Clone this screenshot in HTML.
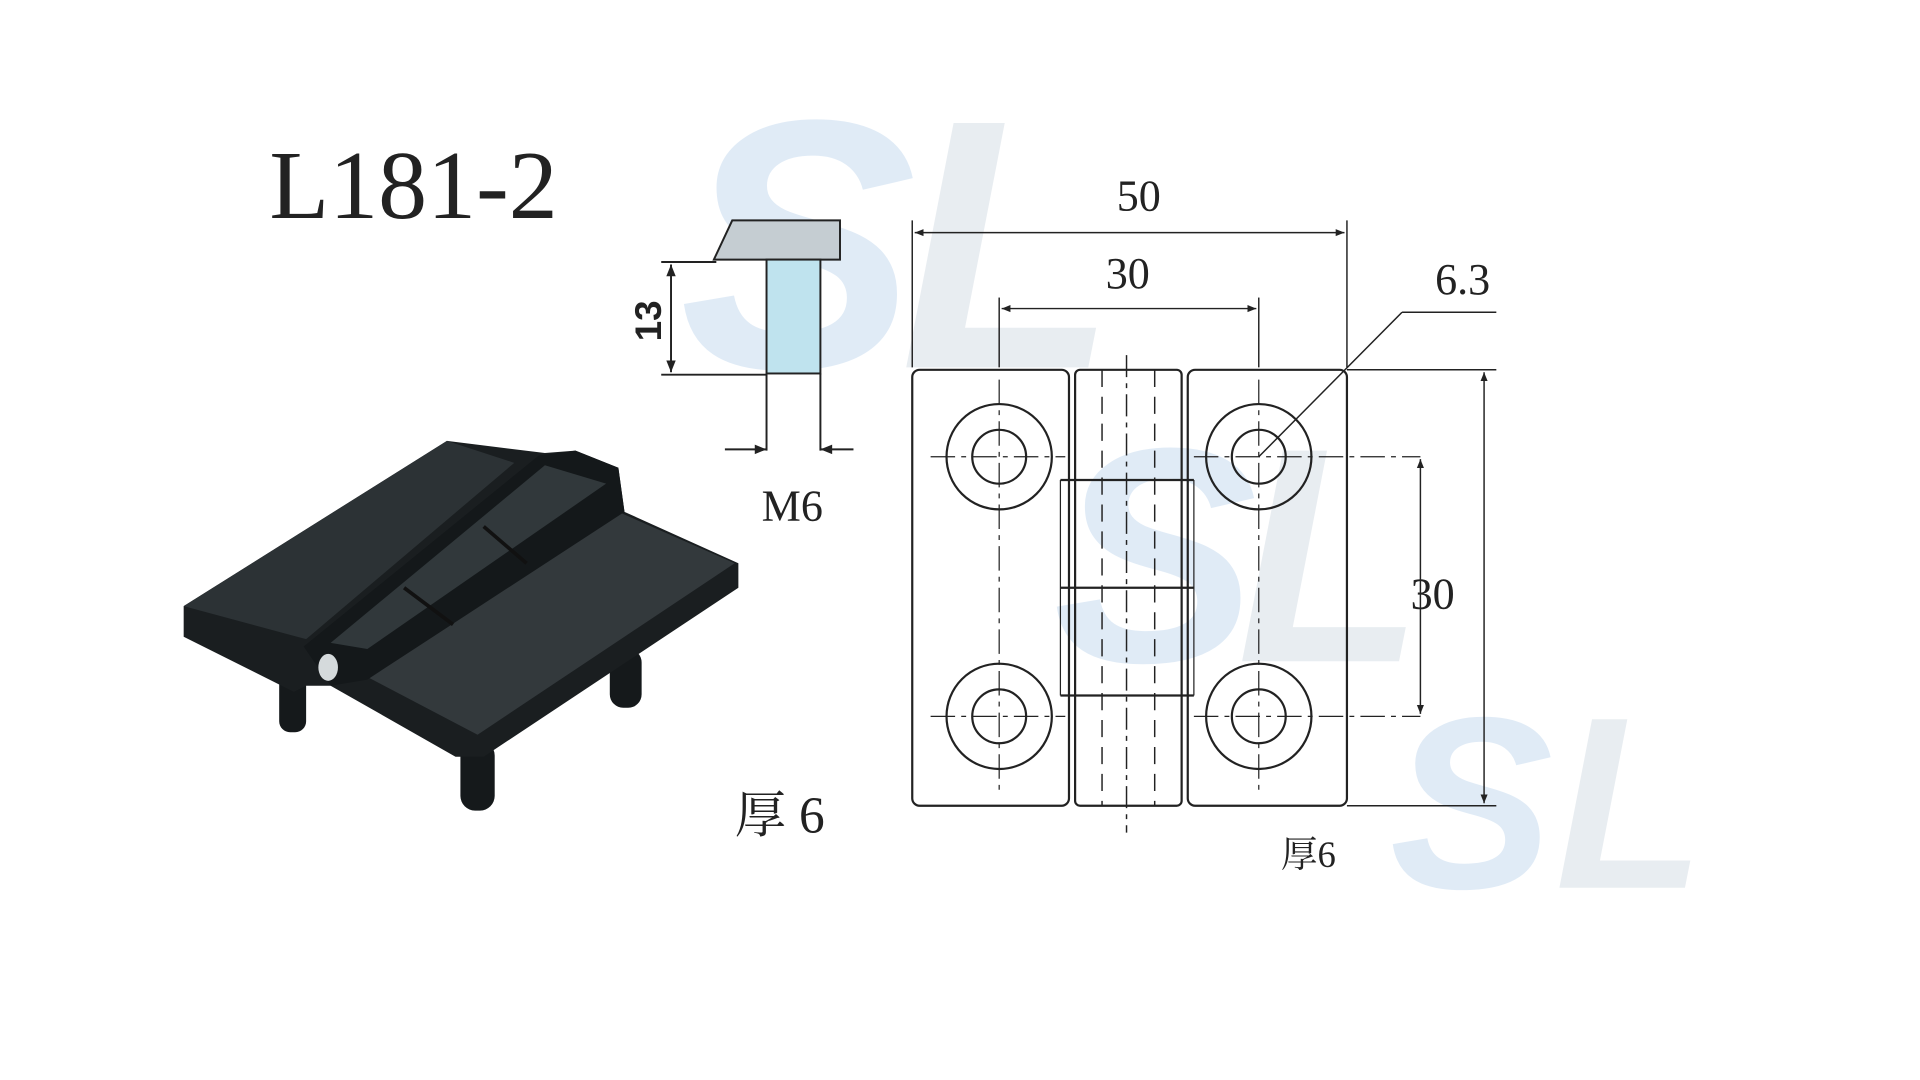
<!DOCTYPE html>
<html><head><meta charset="utf-8"><style>
html,body{margin:0;padding:0;background:#fff;width:1920px;height:1080px;overflow:hidden}
svg{display:block}
</style></head><body>
<svg width="1920" height="1080" viewBox="0 0 1568 882" xmlns="http://www.w3.org/2000/svg">
<defs>
<marker id="a" viewBox="0 0 10 10" refX="10" refY="5" markerWidth="8" markerHeight="6" orient="auto-start-reverse"><path d="M0,1 L10,5 L0,9 z" fill="#222"/></marker>
</defs>
<g fill="#a9c8e8" opacity="0.35" font-family="Liberation Sans, sans-serif" font-weight="bold" font-style="italic">
<text x="555" y="300" font-size="290">S</text>
<text x="735" y="300" font-size="290" fill="#c0ccd8">L</text>
<text x="860" y="540" font-size="250">S</text>
<text x="1010" y="540" font-size="250" fill="#c0ccd8">L</text>
<text x="1135" y="725" font-size="200">S</text>
<text x="1270" y="725" font-size="200" fill="#c0ccd8">L</text>
</g>
<text x="220" y="178" font-family="Liberation Serif, serif" font-size="80" fill="#222">L181-2</text>
<!-- hinge photo -->
<g>
<rect x="228" y="550" width="22" height="48" rx="9" fill="#15191b"/>
<rect x="376" y="605" width="28" height="57" rx="12" fill="#15191b"/>
<rect x="498" y="530" width="26" height="48" rx="11" fill="#15191b"/>
<!-- base silhouette -->
<polygon points="150,495 365,360 445,370 470,368 505,382 510,418 603,460 603,480 395,618 372,618 270,560 250,560 240,565 150,520" fill="#1a1e20"/>
<polygon points="285,545 505,418 600,460 390,600" fill="#33393c"/>
<polygon points="150,495 365,360 420,378 250,522" fill="#2c3235"/>
<polygon points="248,528 440,372 470,368 505,382 510,418 300,555 270,560" fill="#14181a"/>
<polygon points="270,525 445,380 495,395 300,530" fill="#31383b"/>
<line x1="330" y1="480" x2="370" y2="510" stroke="#111" stroke-width="3"/>
<line x1="395" y1="430" x2="430" y2="460" stroke="#111" stroke-width="3"/>
<ellipse cx="268" cy="545" rx="8" ry="11" fill="#d5dadc"/>
</g>
<!-- side view -->
<g stroke="#222" stroke-width="1.6" fill="none">
<polygon points="583,212 598,180 686,180 686,212" fill="#c5cdd2"/>
<rect x="626" y="212" width="44" height="93" fill="#bfe3ee"/>
<line x1="626" y1="305" x2="626" y2="368"/><line x1="670" y1="305" x2="670" y2="368"/>
<line x1="540" y1="214" x2="585" y2="214"/><line x1="540" y1="306" x2="626" y2="306"/>
<line x1="548" y1="216" x2="548" y2="304" marker-start="url(#a)" marker-end="url(#a)"/>
<line x1="592" y1="367" x2="626" y2="367" marker-end="url(#a)"/>
<line x1="697" y1="367" x2="670" y2="367" marker-end="url(#a)"/>
</g>
<text transform="translate(540,262) rotate(-90)" font-family="Liberation Sans, sans-serif" font-weight="bold" font-size="30" text-anchor="middle" fill="#222">13</text>
<text x="622" y="425" font-family="Liberation Serif, serif" font-size="36" fill="#222">M6</text>
<text x="600" y="680" font-family="Liberation Serif, 'Noto Serif CJK SC', serif" font-size="42" fill="#222">厚 6</text>
<!-- main drawing -->
<g stroke="#222" stroke-width="1.8" fill="none">
<rect x="745" y="302" width="128" height="356" rx="6"/>
<rect x="878" y="302" width="87" height="356" rx="4"/>
<rect x="970" y="302" width="130" height="356" rx="6"/>
<line x1="866" y1="392" x2="975" y2="392"/>
<line x1="866" y1="480" x2="975" y2="480"/>
<line x1="866" y1="568" x2="975" y2="568"/>
<line x1="866" y1="392" x2="866" y2="568" stroke-width="1"/>
<line x1="975" y1="392" x2="975" y2="568" stroke-width="1"/>
<g stroke-dasharray="14,8" stroke-width="1.2">
<line x1="900" y1="302" x2="900" y2="658"/><line x1="943" y1="302" x2="943" y2="658"/>
<line x1="920" y1="290" x2="920" y2="680" stroke-dasharray="18,5,4,5"/>
</g>
<g>
<circle cx="816" cy="373" r="43"/><circle cx="816" cy="373" r="22"/>
<circle cx="1028" cy="373" r="43"/><circle cx="1028" cy="373" r="22"/>
<circle cx="816" cy="585" r="43"/><circle cx="816" cy="585" r="22"/>
<circle cx="1028" cy="585" r="43"/><circle cx="1028" cy="585" r="22"/>
</g>
<g stroke-width="1" stroke-dasharray="20,5,4,5">
<line x1="760" y1="373" x2="870" y2="373"/><line x1="975" y1="373" x2="1160" y2="373"/>
<line x1="760" y1="585" x2="870" y2="585"/><line x1="975" y1="585" x2="1160" y2="585"/>
<line x1="816" y1="310" x2="816" y2="650"/><line x1="1028" y1="310" x2="1028" y2="650"/>
</g>
<g stroke-width="1.2">
<line x1="745" y1="180" x2="745" y2="300"/><line x1="1100" y1="180" x2="1100" y2="300"/>
<line x1="747" y1="190" x2="1098" y2="190" marker-start="url(#a)" marker-end="url(#a)"/>
<line x1="816" y1="243" x2="816" y2="300"/><line x1="1028" y1="243" x2="1028" y2="300"/>
<line x1="818" y1="252" x2="1026" y2="252" marker-start="url(#a)" marker-end="url(#a)"/>
<line x1="1028" y1="373" x2="1145" y2="255"/><line x1="1145" y1="255" x2="1222" y2="255"/>
<line x1="1100" y1="302" x2="1222" y2="302"/><line x1="1100" y1="658" x2="1222" y2="658"/>
<line x1="1212" y1="304" x2="1212" y2="656" marker-start="url(#a)" marker-end="url(#a)"/>
<line x1="1160" y1="375" x2="1160" y2="583" marker-start="url(#a)" marker-end="url(#a)"/>
</g>
</g>
<g font-family="Liberation Serif, serif" font-size="36" fill="#222">
<text x="912" y="172">50</text>
<text x="903" y="235">30</text>
<text x="1172" y="240">6.3</text>
<text x="1152" y="497">30</text>
</g>
<text x="1046" y="708" font-family="Liberation Serif, 'Noto Serif CJK SC', serif" font-size="30" fill="#222">厚6</text>
</svg>
</body></html>
